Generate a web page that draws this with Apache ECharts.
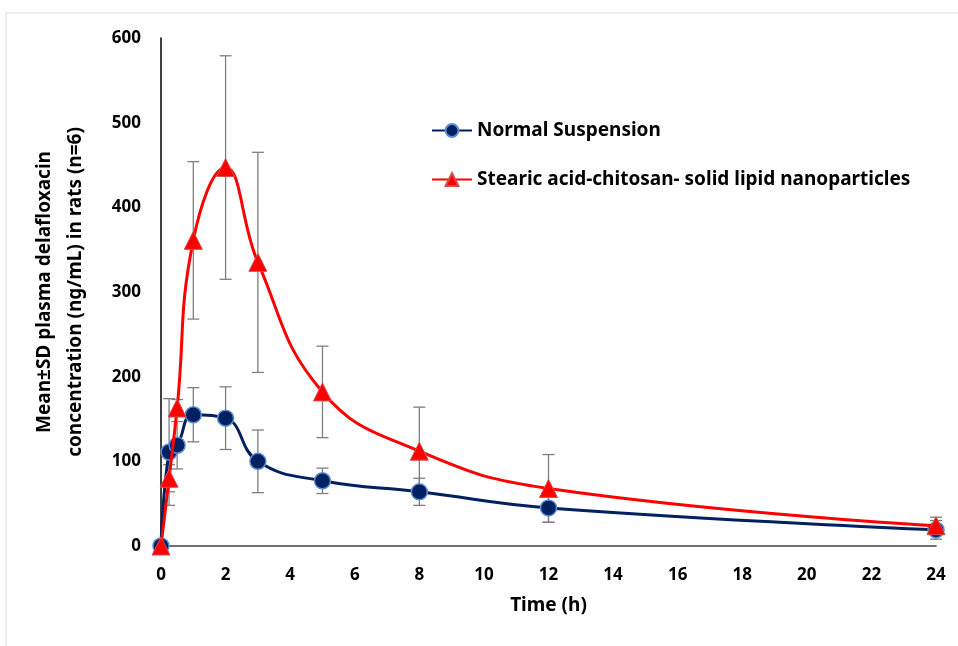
<!DOCTYPE html>
<html>
<head>
<meta charset="utf-8">
<script src="https://cdn.jsdelivr.net/npm/echarts@6/dist/echarts.min.js"></script>
<style>
  html, body { margin: 0; padding: 0; background: #fff; }
  #chart { width: 958px; height: 646px; }
</style>
</head>
<body>
<div id="chart"></div>
<script>
const times = [0, 0.25, 0.5, 1, 2, 3, 5, 8, 12, 24];
const normalMean = [0, 111, 119, 155, 151, 100, 77, 64, 45, 19];
const normalSD = [0, 63, 28, 32, 37, 37, 15, 16, 17, 11];
const slnMean = [0, 80, 163, 361, 447, 335, 182, 112, 68, 24];
const slnSD = [0, 16, 10, 93, 132, 130, 54, 52, 40, 10];
const xTicks = [0, 24, 2];
const yTicks = [0, 600, 100];

const FONT = "Noto Sans";
const chart = echarts.init(document.getElementById("chart"));

function pairs(ys) {
  return times.map((t, i) => [t, ys[i]]);
}
function bars(mean, sd) {
  return times.map((t, i) => [t, mean[i] - sd[i], mean[i] + sd[i]]);
}

// error bar with caps
function renderBar(params, api) {
  const lo = api.coord([api.value(0), api.value(1)]);
  const hi = api.coord([api.value(0), api.value(2)]);
  const w = 6;
  const style = { stroke: "#7f7f7f", lineWidth: 1.3 };
  return {
    type: "group",
    children: [
      { type: "line", shape: { x1: lo[0], y1: lo[1], x2: hi[0], y2: hi[1] }, style },
      { type: "line", shape: { x1: lo[0] - w, y1: lo[1], x2: lo[0] + w, y2: lo[1] }, style },
      { type: "line", shape: { x1: hi[0] - w, y1: hi[1], x2: hi[0] + w, y2: hi[1] }, style },
    ],
  };
}

const option = {
  animation: false,
  textStyle: { fontFamily: FONT },
  graphic: [
    {
      type: "rect",
      shape: { x: 6, y: 13, width: 970, height: 660 },
      style: { fill: null, stroke: "#d9d9d9", lineWidth: 1 },
      silent: true,
    },
  ],
  grid: { left: 161, right: 22, top: 38, bottom: 100 },
  legend: {
    orient: "vertical",
    left: 426,
    top: 116,
    itemGap: 30,
    itemWidth: 40,
    itemHeight: 16,
    textStyle: { fontFamily: FONT, fontWeight: "bold", fontSize: 19, color: "#000" },
    data: ["Normal Suspension", "Stearic acid-chitosan- solid lipid nanoparticles"],
  },
  xAxis: {
    type: "value",
    min: xTicks[0],
    max: xTicks[1],
    interval: xTicks[2],
    name: "Time (h)",
    nameLocation: "middle",
    nameGap: 50,
    nameTextStyle: { fontFamily: FONT, fontWeight: "bold", fontSize: 19, color: "#000" },
    splitLine: { show: false },
    axisTick: { show: false },
    axisLine: { lineStyle: { color: "#404040", width: 1.5 } },
    axisLabel: { margin: 21, fontFamily: FONT, fontWeight: "bold", fontSize: 17, color: "#000" },
  },
  yAxis: {
    type: "value",
    min: yTicks[0],
    max: yTicks[1],
    interval: yTicks[2],
    name: "Mean\u00B1SD plasma delafloxacin\nconcentration (ng/mL) in rats (n=6)",
    nameLocation: "middle",
    nameGap: 70,
    nameTextStyle: { fontFamily: FONT, fontWeight: "bold", fontSize: 19, color: "#000", lineHeight: 31 },
    splitLine: { show: false },
    axisTick: { show: false },
    axisLine: { show: true, lineStyle: { color: "#000", width: 1.5 } },
    axisLabel: { margin: 20, fontFamily: FONT, fontWeight: "bold", fontSize: 17, color: "#000" },
  },
  series: [
    {
      type: "custom",
      renderItem: renderBar,
      data: bars(normalMean, normalSD),
      encode: { x: 0, y: [1, 2] },
      z: 1,
      silent: true,
    },
    {
      type: "custom",
      renderItem: renderBar,
      data: bars(slnMean, slnSD),
      encode: { x: 0, y: [1, 2] },
      z: 1,
      silent: true,
    },
    {
      name: "Normal Suspension",
      type: "line",
      data: pairs(normalMean),
      smooth: 0.45,
      symbol: "circle",
      symbolSize: 16,
      lineStyle: { color: "#002060", width: 3 },
      itemStyle: { color: "#002060", borderColor: "#5b8fd1", borderWidth: 1.5 },
      z: 3,
    },
    {
      name: "Stearic acid-chitosan- solid lipid nanoparticles",
      type: "line",
      data: pairs(slnMean),
      smooth: 0.45,
      symbol: "triangle",
      symbolSize: 18,
      lineStyle: { color: "#ff0000", width: 3 },
      itemStyle: { color: "#ff0000", borderColor: "#d05050", borderWidth: 1 },
      z: 4,
    },
  ],
};

chart.setOption(option);
</script>
</body>
</html>
